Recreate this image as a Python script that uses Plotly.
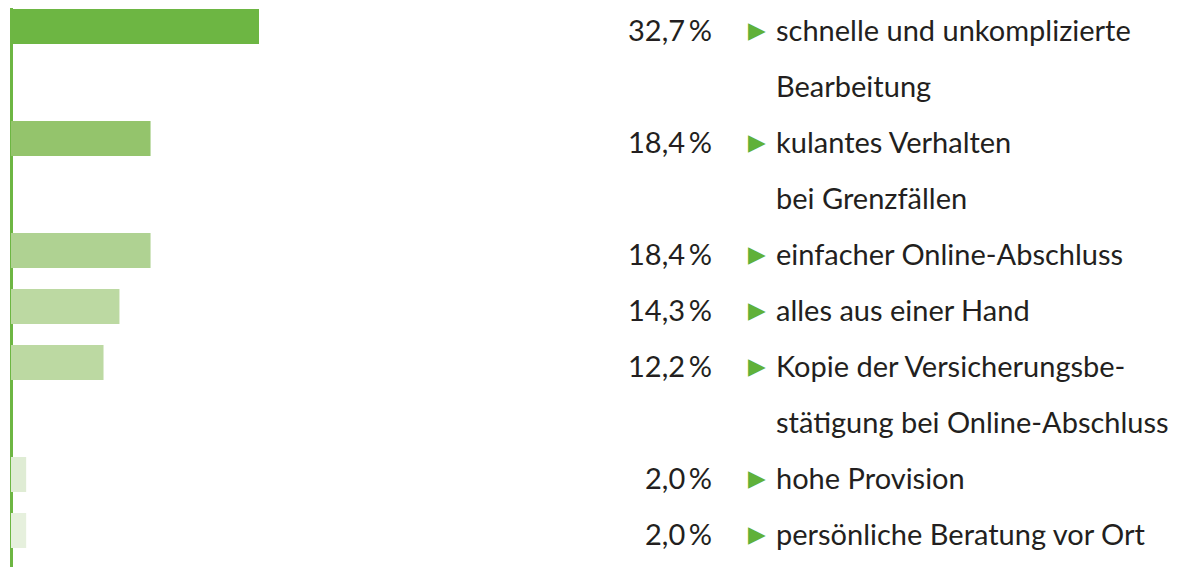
import plotly.graph_objects as go

# ---- data ----
labels = [
    "schnelle und unkomplizierte\nBearbeitung",
    "kulantes Verhalten\nbei Grenzfällen",
    "einfacher Online-Abschluss",
    "alles aus einer Hand",
    "Kopie der Versicherungsbe-\nstätigung bei Online-Abschluss",
    "hohe Provision",
    "persönliche Beratung vor Ort",
]
values = [32.7, 18.4, 18.4, 14.3, 12.2, 2.0, 2.0]
bar_colors = ["#6db643", "#94c46c", "#afd292", "#bcd9a2", "#bcd9a2", "#dfecd4", "#e6f0dd"]

# ---- layout constants (page body has an 8px margin) ----
OFF = 8
W, H = 1192 - OFF, 567 - OFF
ROW = 56.0                 # px per text line slot
FIRST = 26.5 - OFF         # px centre of first row inside figure
ZERO_PX = 11.0 - OFF       # px of x = 0 inside figure
PX_PER_PCT = 7.584
FONT = "Lato"
FS = 29
TXT = "#231f20"
GREEN = "#5fb13a"
TEXT_SHIFT = -3            # text sits a little lower than bar centre

def px(x):
    return (x - OFF) / W

# slot position of every item from its line count
slots, pos = [], 0
for lab in labels:
    slots.append(pos)
    pos += len(lab.split("\n"))

y_top = -FIRST / ROW
y_bot = y_top + H / ROW
x_lo = -ZERO_PX / PX_PER_PCT
x_hi = x_lo + W / PX_PER_PCT

fig = go.Figure()
fig.add_trace(go.Bar(
    x=values, y=slots, orientation="h",
    marker=dict(color=bar_colors, line=dict(width=0)),
    width=35 / ROW, hoverinfo="skip",
))

def fmt(v):
    return f"{v:.1f}".replace(".", ",") + "\u2009%"

ann = []
for lab, v, s in zip(labels, values, slots):
    ann.append(dict(x=px(714), xref="paper", y=s, yref="y", text=fmt(v),
                    xanchor="right", yanchor="middle", showarrow=False, yshift=TEXT_SHIFT,
                    font=dict(family=FONT, size=FS, color=TXT)))
    ann.append(dict(x=px(757), xref="paper", y=s, yref="y", text="\u25B6",
                    xanchor="center", yanchor="middle", showarrow=False, yshift=TEXT_SHIFT,
                    font=dict(family="DejaVu Sans", size=23, color=GREEN)))
    for i, line in enumerate(lab.split("\n")):
        ann.append(dict(x=px(774), xref="paper", y=s + i, yref="y", text=line,
                        xanchor="left", yanchor="middle", showarrow=False, yshift=TEXT_SHIFT,
                        font=dict(family=FONT, size=FS, color=TXT)))

fig.update_layout(
    width=W, height=H,
    margin=dict(l=0, r=0, t=0, b=0, pad=0),
    paper_bgcolor="white", plot_bgcolor="white",
    showlegend=False,
    xaxis=dict(range=[x_lo, x_hi], showgrid=False, showticklabels=False,
               zeroline=True, zerolinecolor="#6db643", zerolinewidth=3),
    yaxis=dict(range=[y_bot, y_top], showgrid=False, showticklabels=False,
               zeroline=False),
    annotations=ann,
)

fig.write_html("out.html")
